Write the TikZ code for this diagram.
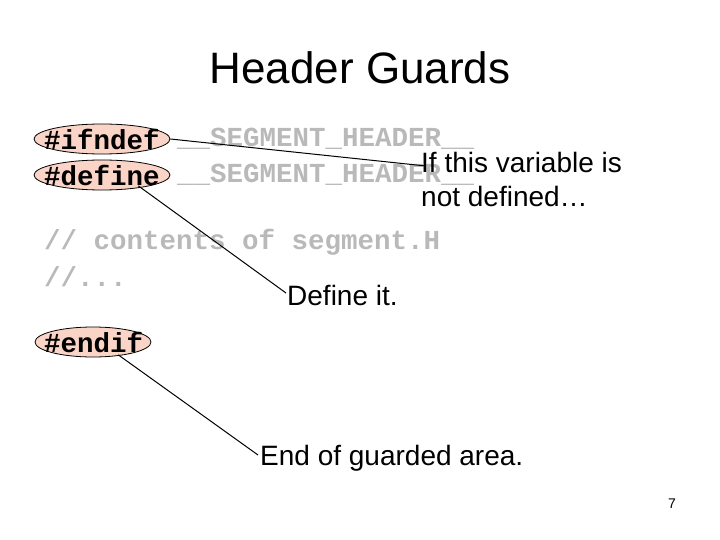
\documentclass[tikz,border=0pt]{standalone}
\usepackage{fontspec}
\usetikzlibrary{shapes.geometric}
\setmainfont{Liberation Sans}
\newfontfamily\codefont{Liberation Mono}
\definecolor{pk}{RGB}{250,212,198}
\definecolor{gr}{RGB}{185,185,185}
\begin{document}
\begin{tikzpicture}[x=1pt,y=-1pt,
  code/.style={font=\codefont\bfseries\fontsize{27.5}{27.5}\selectfont,inner sep=0pt,anchor=west},
  oval/.style={ellipse,draw,fill=pk,line width=0.8pt,inner sep=0pt,minimum height=30pt},
  lbl/.style={font=\fontsize{28}{34}\selectfont,anchor=north west,inner sep=0pt,align=left},
  ln/.style={line width=1pt}]
\useasboundingbox (0,0) rectangle (720,540);
\node[font=\fontsize{44}{46}\selectfont] (title) at (360,68) {Header Guards};
\node[oval,minimum width=136pt] (e1) at (102,139) {};
\node[oval,minimum width=136pt] (e2) at (102,175) {};
\node[oval,minimum width=116pt] (e3) at (93,342) {};
\node[code] (c1) at (44,139) {\#ifndef};
\node[code,gr] (c1b) at (177,139) {\_\_SEGMENT\_HEADER\_\_};
\node[code] (c2) at (44,175) {\#define};
\node[code,gr] (c2b) at (177,175) {\_\_SEGMENT\_HEADER\_\_};
\node[code,gr] (c3) at (44,242) {// contents of segment.H};
\node[code,gr] (c4) at (44,277) {//...};
\node[code] (c5) at (44,342) {\#endif};
\node[lbl] (l1) at (421,152) {If this variable is\\not defined\ldots};
\node[lbl] (l2) at (287,285) {Define it.};
\node[lbl] (l3) at (260,445) {End of guarded area.};
\node[font=\fontsize{14}{14}\selectfont] (pg) at (672,504) {7};
\coordinate (a1) at (426,166);
\coordinate (a2) at (286,293);
\coordinate (a3) at (258,455);
\draw[ln] (e1.east) -- (a1);
\draw[ln] (e2.south east) ++(-12,0) -- (a2);
\draw[ln] (e3.south east) ++(-16,2) -- (a3);
\end{tikzpicture}
\end{document}
